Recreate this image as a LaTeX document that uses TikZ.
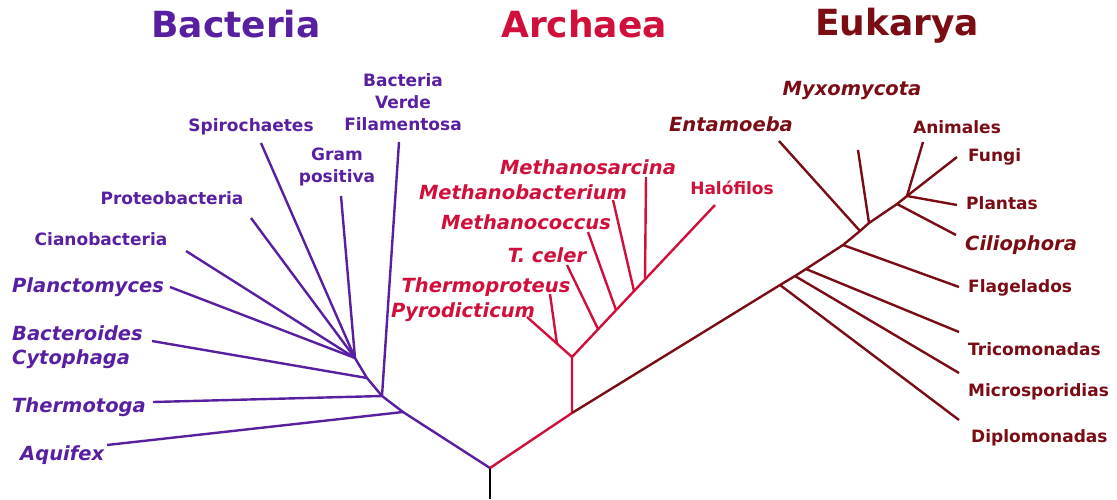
\documentclass[tikz,border=0pt]{standalone}
\usepackage{fontspec}
\setmainfont{DejaVu Sans}
\usepackage{tikz}
\usetikzlibrary{positioning}

\definecolor{bacC}{RGB}{88,32,160}
\definecolor{arcC}{RGB}{208,16,58}
\definecolor{eukC}{RGB}{122,12,20}

\begin{document}
\begin{tikzpicture}[
  x=1pt, y=-1pt,
  branch/.style={line width=2.4pt, color=#1},
  title/.style={inner sep=0pt, anchor=base, text=#1, font=\fontsize{36}{40}\selectfont\bfseries},
  taxon/.style={inner sep=0pt, text=#1, align=center, font=\fontsize{17}{22}\selectfont\bfseries},
  taxit/.style={inner sep=0pt, text=#1, align=left, font=\fontsize{19.5}{24}\selectfont\bfseries\itshape},
]
\useasboundingbox (0,0) rectangle (1117,499);

\node[title=bacC] (tbac) at (236,37) {Bacteria};
\node[title=arcC] (tarc) at (584,37) {Archaea};
\node[title=eukC] (teuk) at (897,35) {Eukarya};

% trunk
\coordinate (base) at (490,499);
\coordinate (root) at (490,468);
\coordinate (split) at (572,413);
\draw[branch=black] (base) -- (root);

% Bacteria
\coordinate (aquJ) at (403,412);
\coordinate (b1) at (382,396);
\coordinate (b2) at (367,378);
\coordinate (b3) at (355,358);
\coordinate (aquT) at (107,445);
\coordinate (therT) at (153,402);
\coordinate (bactT) at (152,341);
\coordinate (planT) at (170,287);
\coordinate (cianT) at (186,251);
\coordinate (protT) at (251,218);
\coordinate (spirT) at (261,143);
\coordinate (gramT) at (341,196);
\coordinate (verdT) at (399,142);
\draw[branch=bacC] (root) -- (aquJ) -- (b1) -- (b2) -- (b3);
\draw[branch=bacC] (aquJ) -- (aquT);
\draw[branch=bacC] (b1) -- (therT);
\draw[branch=bacC] (b1) -- (verdT);
\draw[branch=bacC] (b2) -- (bactT);
\foreach \t in {planT, cianT, protT, spirT, gramT}
  \draw[branch=bacC] (b3) -- (\t);

\node[taxon=bacC] (verde) at (403,102) {Bacteria\\Verde\\Filamentosa};
\node[taxon=bacC] (spiro) at (251,127) {Spirochaetes};
\node[taxon=bacC] (gram) at (337,167) {Gram\\positiva};
\node[taxon=bacC] (proteo) at (172,198) {Proteobacteria};
\node[taxon=bacC] (ciano) at (101,239) {Cianobacteria};
\node[taxit=bacC, anchor=west] (plancto) at (12,287) {Planctomyces};
\node[taxit=bacC, anchor=west] (bactero) at (12,347) {Bacteroides\\Cytophaga};
\node[taxit=bacC, anchor=west] (thermo) at (12,407) {Thermotoga};
\node[taxit=bacC, anchor=west] (aquifex) at (20,455) {Aquifex};

% Archaea
\coordinate (a1) at (572,357);
\coordinate (pyrT) at (527,317);
\coordinate (thpJ) at (557,344);
\coordinate (thpT) at (550,294);
\coordinate (halT) at (715,205);
\coordinate (celJ) at (598,329);
\coordinate (celT) at (567,265);
\coordinate (cocJ) at (616,310);
\coordinate (cocT) at (588,232);
\coordinate (mbaJ) at (634,291);
\coordinate (mbaT) at (613,200);
\coordinate (sarJ) at (645,279);
\coordinate (sarT) at (646,177);
\draw[branch=arcC] (root) -- (split) -- (a1);
\draw[branch=arcC] (a1) -- (pyrT);
\draw[branch=arcC] (thpJ) -- (thpT);
\draw[branch=arcC] (a1) -- (halT);
\draw[branch=arcC] (celJ) -- (celT);
\draw[branch=arcC] (cocJ) -- (cocT);
\draw[branch=arcC] (mbaJ) -- (mbaT);
\draw[branch=arcC] (sarJ) -- (sarT);

\node[taxit=arcC] (msarc) at (588,167) {Methanosarcina};
\node[taxit=arcC] (mbact) at (523,192) {Methanobacterium};
\node[taxit=arcC] (mcocc) at (526,222) {Methanococcus};
\node[taxit=arcC] (tceler) at (547,255) {T. celer};
\node[taxit=arcC] (thprot) at (486,287) {Thermoproteus};
\node[taxit=arcC] (pyrod) at (463,312) {Pyrodicticum};
\node[taxon=arcC] (halo) at (732,188) {Halófilos};

% Eukarya
\coordinate (dipJ) at (780,285);
\coordinate (micJ) at (795,276);
\coordinate (triJ) at (806,269);
\coordinate (flaJ) at (843,245);
\coordinate (entJ) at (860,231);
\coordinate (myxJ) at (869,223);
\coordinate (cilJ) at (897,204);
\coordinate (crown) at (907,196);
\coordinate (dipT) at (959,420);
\coordinate (micT) at (959,373);
\coordinate (triT) at (959,332);
\coordinate (flaT) at (959,287);
\coordinate (entT) at (779,141);
\coordinate (myxT) at (858,150);
\coordinate (cilT) at (956,235);
\coordinate (plaT) at (957,205);
\coordinate (funT) at (957,157);
\coordinate (aniT) at (923,142);
\draw[branch=eukC] (split) -- (dipJ) -- (micJ) -- (triJ) -- (flaJ) -- (entJ) -- (myxJ) -- (cilJ) -- (crown);
\foreach \j/\t in {dipJ/dipT, micJ/micT, triJ/triT, flaJ/flaT, entJ/entT, myxJ/myxT, cilJ/cilT, crown/plaT, crown/funT, crown/aniT}
  \draw[branch=eukC] (\j) -- (\t);

\node[taxit=eukC] (myxo) at (852,90) {Myxomycota};
\node[taxit=eukC] (entam) at (731,124) {Entamoeba};
\node[taxon=eukC] (anim) at (957,127) {Animales};
\node[taxon=eukC, anchor=west] (fungi) at (968,157) {Fungi};
\node[taxon=eukC, anchor=west] (plant) at (966,203) {Plantas};
\node[taxit=eukC, anchor=west] (cilio) at (965,245) {Ciliophora};
\node[taxon=eukC, anchor=west] (flag) at (968,288) {Flagelados};
\node[taxon=eukC, anchor=west] (trico) at (968,349) {Tricomonadas};
\node[taxon=eukC, anchor=west] (micro) at (968,392) {Microsporidias};
\node[taxon=eukC, anchor=west] (diplo) at (971,438) {Diplomonadas};
\end{tikzpicture}
\end{document}
